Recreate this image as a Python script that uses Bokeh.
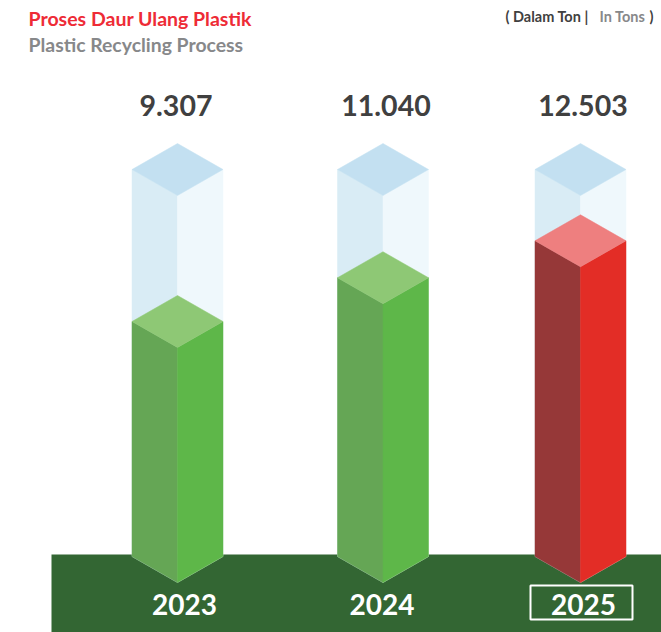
# Plastic recycling volumes drawn as isometric columns standing on a green ground band.
from bokeh.core.properties import value
from bokeh.embed import file_html
from bokeh.models import ColumnDataSource, Range1d
from bokeh.plotting import figure
from bokeh.resources import INLINE

years = ["2023", "2024", "2025"]
tons = [9307, 11040, 12503]
tons_labels = ["9.307", "11.040", "12.503"]

# Layout, in page pixels
WIDTH, HEIGHT = 661, 632
BASE_PX = 556          # page row of the zero line (front edge of each column foot)
PX_PER_TON = 0.02525
CENTERS = [177, 382.5, 580]
HALF_W = 45.5
DIAMOND_PX = 26
TUBE_PX = 387          # height of the pale glass tube
FONT = value("Lato")

FACES_GLASS = ("#c3e0f1", "#d9ecf5", "#eff8fc")
FACES_GREEN = ("#8ec875", "#65a655", "#5eb749")
FACES_RED = ("#ee7f7f", "#963838", "#e32d26")
FACES = [FACES_GREEN, FACES_GREEN, FACES_RED]


def row(px):
    """Convert a page row into tons on the y scale."""
    return (BASE_PX - px) / PX_PER_TON


p = figure(
    width=WIDTH, height=HEIGHT, output_backend="svg", toolbar_location=None,
    x_range=Range1d(0, WIDTH), y_range=Range1d(row(HEIGHT), row(0)),
    min_border=0, outline_line_color=None,
)
p.axis.visible = False
p.grid.visible = False

# Ground band
p.quad(left=[51], right=[WIDTH], bottom=[row(632)], top=[row(554)],
       fill_color="#336633", line_color=None)


def column(cx, level, faces):
    """Draw the top, left and right faces of a column whose front top edge sits at level tons."""
    d = DIAMOND_PX / PX_PER_TON
    foot = 0
    top_c, left_c, right_c = faces
    xs = [
        [cx - HALF_W, cx, cx, cx - HALF_W],
        [cx, cx + HALF_W, cx + HALF_W, cx],
        [cx - HALF_W, cx, cx + HALF_W, cx],
    ]
    ys = [
        [level, level - d, foot - d, foot],
        [level - d, level, foot, foot - d],
        [level, level + d, level, level - d],
    ]
    src = ColumnDataSource(dict(xs=xs, ys=ys, color=[left_c, right_c, top_c]))
    p.patches("xs", "ys", source=src, fill_color="color", line_color="color", line_width=0.5)


tube_level = TUBE_PX / PX_PER_TON
for cx, t, faces in zip(CENTERS, tons, FACES):
    column(cx, tube_level, FACES_GLASS)
    column(cx, t, faces)

# Values above the columns
p.text(x=[175.5, 385.5, 582.5], y=[row(105)] * 3, text=tons_labels,
       text_font=FONT, text_font_style="bold", text_font_size="28.5px",
       text_color="#404040", text_align="center", text_baseline="middle")

# Year labels in the band
p.text(x=[184, 381.5, 583], y=[row(604)] * 3, text=years,
       text_font=FONT, text_font_style="bold", text_font_size="28px",
       text_color="#ffffff", text_align="center", text_baseline="middle")

# Frame around the current year
p.quad(left=[530], right=[632], bottom=[row(619)], top=[row(585)],
       fill_color=None, line_color="#ffffff", line_width=2)

# Headings
p.text(x=[28], y=[row(17.5)], text=["Proses Daur Ulang Plastik"],
       text_font=FONT, text_font_style="bold", text_font_size="19.5px",
       text_color="#ee2b36", text_baseline="middle")
p.text(x=[28], y=[row(43.5)], text=["Plastic Recycling Process"],
       text_font=FONT, text_font_style="bold", text_font_size="19.4px",
       text_color="#87888a", text_baseline="middle")

# Unit note, in two tones
p.text(x=[505], y=[row(15.5)], text=["( Dalam Ton |"],
       text_font=FONT, text_font_style="bold", text_font_size="14.5px",
       text_color="#404040", text_baseline="middle")
p.text(x=[599], y=[row(15.5)], text=["In Tons"],
       text_font=FONT, text_font_style="bold", text_font_size="14.5px",
       text_color="#87888a", text_baseline="middle")
p.text(x=[649], y=[row(15.5)], text=[")"],
       text_font=FONT, text_font_style="bold", text_font_size="14.5px",
       text_color="#404040", text_baseline="middle")

open("out.html", "w").write(file_html(p, INLINE))
